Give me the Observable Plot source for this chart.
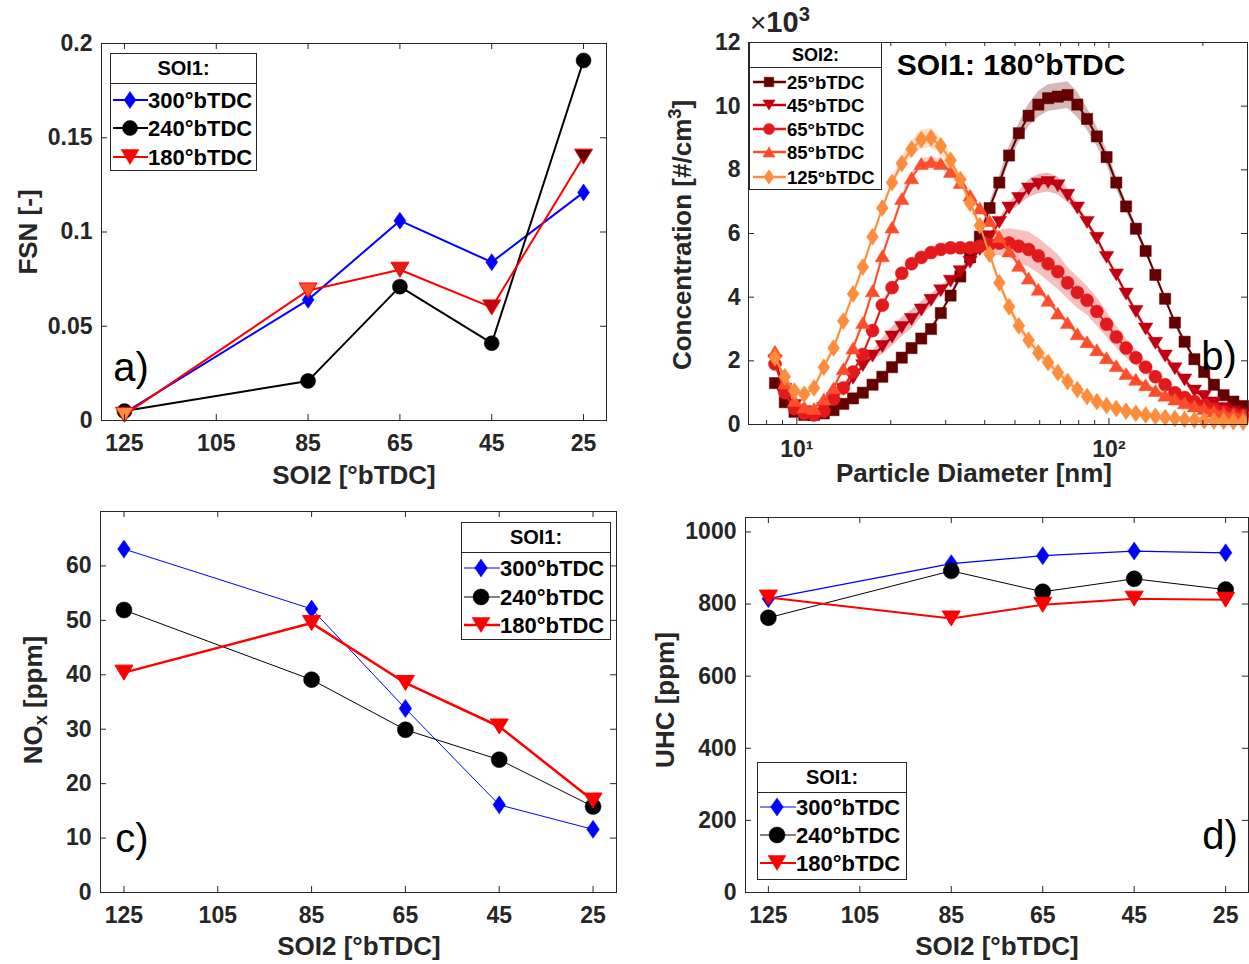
<!DOCTYPE html>
<html><head><meta charset="utf-8">
<script src="https://cdn.jsdelivr.net/npm/d3@7"></script>
<script src="https://cdn.jsdelivr.net/npm/@observablehq/plot@0.6"></script>
<style>
body{margin:0;background:#fff;}
#root{position:relative;width:1249px;height:964px;overflow:hidden;font-family:"Liberation Sans",Arial,sans-serif;color:#262626;}
.abs{position:absolute;white-space:nowrap;line-height:1;}
.ttl{font-weight:bold;font-size:26px;}
.rot{transform:translate(-50%,-50%) rotate(-90deg);}
.ctr{transform:translate(-50%,-50%);}
.tag{font-size:40px;color:#000;}
sub{font-size:0.7em;vertical-align:-0.25em;}
sup{font-size:0.7em;vertical-align:0.55em;}
</style></head>
<body><div id="root"></div>
<script>
// ---------------- data ----------------
const soi2 = [125, 85, 65, 45, 25];
const soi2Ticks = [125, 105, 85, 65, 45, 25];
const soi1Names = ["300°bTDC", "240°bTDC", "180°bTDC"];
const soi2Names = ["25°bTDC", "45°bTDC", "65°bTDC", "85°bTDC", "125°bTDC"];

const fsn300 = [0.004, 0.064, 0.106, 0.084, 0.121];
const fsn240 = [0.005, 0.021, 0.071, 0.041, 0.191];
const fsn180 = [0.003, 0.069, 0.080, 0.060, 0.140];

const nox300 = [63.1, 52.1, 33.8, 16.1, 11.6];
const nox240 = [51.9, 39.1, 29.9, 24.4, 15.8];
const nox180 = [40.4, 49.5, 38.5, 30.5, 16.9];

const uhc300 = [815, 912, 934, 947, 942];
const uhc240 = [762, 892, 834, 870, 840];
const uhc180 = [818, 760, 798, 815, 812];

// particle size distribution, SOI1 = 180°bTDC (values x10^3 #/cm3)
const diam = [8.51, 9.15, 9.83, 10.56, 11.35, 12.20, 13.11, 14.09, 15.14, 16.27, 17.48, 18.79, 20.19, 21.69, 23.31, 25.05, 26.92, 28.93, 31.09, 33.41, 35.90, 38.58, 41.46, 44.55, 47.87, 51.44, 55.28, 59.41, 63.84, 68.60, 73.72, 79.22, 85.11, 91.46, 98.29, 105.6, 113.5, 122.0, 131.1, 140.9, 151.4, 162.7, 174.8, 187.9, 201.9, 217.0, 233.1, 250.5, 269.2];
const psd25 = [1.3, 0.7, 0.4, 0.3, 0.3, 0.35, 0.45, 0.65, 0.82, 1.0, 1.25, 1.5, 1.8, 2.1, 2.4, 2.7, 3.0, 3.5, 4.05, 4.65, 5.25, 5.9, 6.8, 7.6, 8.45, 9.15, 9.7, 10.05, 10.25, 10.3, 10.35, 10.05, 9.6, 9.05, 8.4, 7.6, 6.85, 6.15, 5.45, 4.7, 3.95, 3.2, 2.6, 2.05, 1.65, 1.25, 0.92, 0.72, 0.58];
const psd45 = [2.0, 1.1, 0.6, 0.4, 0.33, 0.5, 0.8, 1.1, 1.45, 1.85, 2.15, 2.45, 2.75, 3.05, 3.3, 3.6, 3.9, 4.2, 4.5, 4.8, 5.1, 5.5, 5.9, 6.35, 6.8, 7.1, 7.4, 7.55, 7.6, 7.5, 7.2, 6.8, 6.35, 5.85, 5.25, 4.7, 4.1, 3.55, 3.0, 2.55, 2.15, 1.75, 1.4, 1.05, 0.88, 0.68, 0.5, 0.4, 0.33];
const psd65 = [1.9, 1.0, 0.5, 0.35, 0.3, 0.42, 0.8, 1.15, 1.65, 2.2, 2.95, 3.75, 4.3, 4.75, 5.05, 5.25, 5.4, 5.5, 5.55, 5.55, 5.55, 5.6, 5.65, 5.7, 5.7, 5.6, 5.5, 5.3, 5.05, 4.8, 4.45, 4.15, 3.9, 3.55, 3.15, 2.75, 2.4, 2.1, 1.8, 1.5, 1.25, 1.0, 0.85, 0.72, 0.6, 0.48, 0.4, 0.33, 0.28];
const psd85 = [2.3, 1.3, 0.75, 0.55, 0.5, 0.8, 1.15, 1.75, 2.4, 3.2, 4.2, 5.3, 6.2, 7.1, 7.75, 8.2, 8.25, 8.2, 7.95, 7.6, 7.2, 6.8, 6.4, 5.9, 5.45, 5.0, 4.6, 4.25, 3.9, 3.5, 3.2, 2.85, 2.6, 2.35, 2.1, 1.85, 1.6, 1.42, 1.25, 1.07, 0.92, 0.8, 0.68, 0.58, 0.5, 0.42, 0.36, 0.32, 0.28];
const psd125 = [2.1, 1.5, 1.05, 0.95, 1.15, 1.8, 2.4, 3.25, 4.1, 4.95, 5.9, 6.8, 7.6, 8.2, 8.65, 8.95, 9.0, 8.75, 8.3, 7.7, 6.95, 6.25, 5.35, 4.45, 3.7, 3.1, 2.65, 2.25, 1.95, 1.63, 1.35, 1.1, 0.88, 0.72, 0.6, 0.5, 0.42, 0.35, 0.3, 0.26, 0.22, 0.19, 0.16, 0.14, 0.12, 0.11, 0.1, 0.09, 0.08];
// standard deviation bands
const sd25 = [0.06, 0.06, 0.06, 0.06, 0.06, 0.06, 0.06, 0.06, 0.06, 0.06, 0.06, 0.06, 0.06, 0.06, 0.06, 0.06, 0.06, 0.06, 0.06, 0.08, 0.1, 0.12, 0.15, 0.2, 0.25, 0.3, 0.35, 0.4, 0.42, 0.42, 0.42, 0.4, 0.35, 0.3, 0.25, 0.2, 0.15, 0.12, 0.1, 0.08, 0.08, 0.08, 0.08, 0.08, 0.08, 0.08, 0.08, 0.08, 0.08];
const sd45 = [0.06, 0.06, 0.06, 0.06, 0.06, 0.06, 0.06, 0.06, 0.06, 0.06, 0.15, 0.25, 0.3, 0.3, 0.3, 0.25, 0.2, 0.15, 0.1, 0.1, 0.1, 0.1, 0.1, 0.1, 0.15, 0.22, 0.28, 0.3, 0.3, 0.28, 0.22, 0.15, 0.1, 0.1, 0.1, 0.1, 0.1, 0.1, 0.1, 0.1, 0.1, 0.1, 0.1, 0.1, 0.1, 0.1, 0.1, 0.1, 0.1];
const sd65 = [0.06, 0.06, 0.06, 0.06, 0.06, 0.06, 0.06, 0.06, 0.06, 0.06, 0.06, 0.06, 0.06, 0.06, 0.06, 0.06, 0.08, 0.1, 0.1, 0.12, 0.15, 0.2, 0.3, 0.4, 0.45, 0.5, 0.55, 0.55, 0.55, 0.55, 0.5, 0.5, 0.45, 0.45, 0.4, 0.35, 0.3, 0.25, 0.2, 0.15, 0.1, 0.1, 0.1, 0.1, 0.1, 0.1, 0.1, 0.1, 0.1];
const sd85 = [0.08, 0.08, 0.08, 0.08, 0.08, 0.08, 0.08, 0.08, 0.08, 0.08, 0.08, 0.08, 0.1, 0.12, 0.15, 0.15, 0.15, 0.15, 0.12, 0.1, 0.08, 0.08, 0.08, 0.08, 0.08, 0.08, 0.08, 0.08, 0.08, 0.08, 0.08, 0.08, 0.08, 0.08, 0.08, 0.08, 0.08, 0.08, 0.08, 0.08, 0.08, 0.08, 0.08, 0.08, 0.08, 0.08, 0.08, 0.08, 0.08];
const sd125 = [0.08, 0.08, 0.08, 0.08, 0.08, 0.08, 0.08, 0.08, 0.08, 0.08, 0.08, 0.08, 0.12, 0.2, 0.25, 0.3, 0.3, 0.25, 0.2, 0.15, 0.12, 0.12, 0.12, 0.14, 0.15, 0.15, 0.15, 0.15, 0.14, 0.12, 0.12, 0.1, 0.1, 0.08, 0.08, 0.08, 0.08, 0.08, 0.08, 0.08, 0.08, 0.08, 0.08, 0.08, 0.08, 0.08, 0.08, 0.08, 0.08];

const soi1Colors = ["#0000ff", "#000000", "#ff0000"];
const soi2Colors = {125: "#fd8d3c", 85: "#fc4e2a", 65: "#e31a1c", 45: "#c00010", 25: "#650000"};

// ---------------- symbols (MATLAB-like) ----------------
const R = s => Math.sqrt(s / Math.PI);
const symDiamond = {draw(c, s){const r=R(s), w=r*0.7; c.moveTo(0,-r); c.lineTo(w,0); c.lineTo(0,r); c.lineTo(-w,0); c.closePath();}};
const symCircle = {draw(c, s){const r=R(s); c.moveTo(r,0); c.arc(0,0,r,0,2*Math.PI); c.closePath();}};
const symTriDown = {draw(c, s){const r=R(s), h=r*0.83; c.moveTo(-r,-h); c.lineTo(r,-h); c.lineTo(0,h); c.closePath();}};
const symTriUp = {draw(c, s){const r=R(s), h=r*0.83; c.moveTo(-r,h); c.lineTo(r,h); c.lineTo(0,-h); c.closePath();}};
const symSquare = {draw(c, s){const r=R(s); c.moveTo(-r,-r); c.lineTo(r,-r); c.lineTo(r,r); c.lineTo(-r,r); c.closePath();}};

const root = document.getElementById("root");
const INK = "#262626";

function mkPanel(cfg){
  const {left, top, width, height, ml, mr, mt, mb, x, y, xTicks, yTicks, xMinor = [], xFmt, yFmt, marks, xPad, yPad, fontSize = 23, tick = 6} = cfg;
  const iw = width - ml - mr, ih = height - mt - mb;
  const p = Plot.plot({
    width, height, marginLeft: ml, marginRight: mr, marginTop: mt, marginBottom: mb,
    x: {...x, label: null}, y: {...y, label: null},
    color: {type: "identity"},
    style: {fontFamily: "Liberation Sans, Arial, sans-serif", color: INK, background: "transparent", overflow: "visible"},
    marks: [
      ...marks,
      Plot.tickX(xTicks, {x: d => d, insetTop: ih - tick, stroke: INK}),
      Plot.tickX(xTicks, {x: d => d, insetBottom: ih - tick, stroke: INK}),
      Plot.tickX(xMinor, {x: d => d, insetTop: ih - 4, stroke: INK}),
      Plot.tickX(xMinor, {x: d => d, insetBottom: ih - 4, stroke: INK}),
      Plot.tickY(yTicks, {y: d => d, insetRight: iw - tick, stroke: INK}),
      Plot.tickY(yTicks, {y: d => d, insetLeft: iw - tick, stroke: INK}),
      Plot.frame({stroke: INK}),
      Plot.axisX(xTicks, {anchor: "bottom", tickSize: 0, tickPadding: xPad, tickFormat: xFmt, fontSize, fontWeight: "bold", label: null}),
      Plot.axisY(yTicks, {anchor: "left", tickSize: 0, tickPadding: yPad, tickFormat: yFmt, fontSize, fontWeight: "bold", label: null})
    ]
  });
  p.style.position = "absolute"; p.style.left = left + "px"; p.style.top = top + "px";
  root.appendChild(p);
}

function seriesRows(values){ return soi2.map((s, i) => ({soi2: s, v: values[i], fill: soi2Colors[s]})); }

function soi1Marks(v300, v240, v180, w, sz, triFillBySoi2){
  const r300 = seriesRows(v300), r240 = seriesRows(v240), r180 = seriesRows(v180);
  return [
    Plot.line(r300, {x: "soi2", y: "v", stroke: soi1Colors[0], strokeWidth: w[0]}),
    Plot.dot(r300, {x: "soi2", y: "v", symbol: symDiamond, r: sz[0], fill: soi1Colors[0], stroke: soi1Colors[0], strokeWidth: 0.5}),
    Plot.line(r240, {x: "soi2", y: "v", stroke: soi1Colors[1], strokeWidth: w[1]}),
    Plot.dot(r240, {x: "soi2", y: "v", symbol: symCircle, r: sz[1], fill: soi1Colors[1], stroke: soi1Colors[1], strokeWidth: 0.5}),
    Plot.line(r180, {x: "soi2", y: "v", stroke: soi1Colors[2], strokeWidth: w[2]}),
    Plot.dot(r180, {x: "soi2", y: "v", symbol: symTriDown, r: sz[2], fill: triFillBySoi2 ? "fill" : soi1Colors[2], stroke: soi1Colors[2], strokeWidth: 1})
  ];
}

// ---------------- panel a ----------------
mkPanel({left: 0, top: 0, width: 620, height: 490, ml: 101, mr: 14, mt: 43, mb: 70,
  x: {domain: [130, 20]}, y: {domain: [0, 0.2]},
  xTicks: soi2Ticks, yTicks: [0, 0.05, 0.1, 0.15, 0.2], xFmt: d => String(d), yFmt: d => String(d),
  xPad: 14, yPad: 9,
  marks: soi1Marks(fsn300, fsn240, fsn180, [2, 2, 2], [8.5, 7.5, 9], true)});

// ---------------- panel b ----------------
const psdSeries = [
  {name: soi2Names[0], y: psd25, sd: sd25, color: soi2Colors[25], sym: symSquare, r: 5.6},
  {name: soi2Names[1], y: psd45, sd: sd45, color: soi2Colors[45], sym: symTriDown, r: 7.2},
  {name: soi2Names[2], y: psd65, sd: sd65, color: soi2Colors[65], sym: symCircle, r: 6.5},
  {name: soi2Names[3], y: psd85, sd: sd85, color: soi2Colors[85], sym: symTriUp, r: 7.2},
  {name: soi2Names[4], y: psd125, sd: sd125, color: soi2Colors[125], sym: symDiamond, r: 8.5}
];
const psdMarks = psdSeries.flatMap(s => {
  const rows = diam.map((d, i) => ({d, v: s.y[i], lo: s.y[i] - s.sd[i], hi: s.y[i] + s.sd[i]}));
  return [
    Plot.areaY(rows, {x: "d", y1: "lo", y2: "hi", fill: s.color, fillOpacity: 0.28}),
    Plot.line(rows, {x: "d", y: "v", stroke: s.color, strokeWidth: 2}),
    Plot.dot(rows, {x: "d", y: "v", symbol: s.sym, r: s.r, fill: s.color, stroke: s.color, strokeWidth: 0.5})
  ];
});
mkPanel({left: 630, top: 0, width: 619, height: 490, ml: 118, mr: 2, mt: 42, mb: 66,
  x: {type: "log", domain: [7.0, 278]}, y: {domain: [0, 12]},
  xTicks: [10, 100], xMinor: [8, 9, 20, 30, 40, 50, 60, 70, 80, 90, 200],
  yTicks: [0, 2, 4, 6, 8, 10, 12], xFmt: d => d === 10 ? "10¹" : "10²", yFmt: d => String(d),
  xPad: 16, yPad: 8, marks: psdMarks});

// ---------------- panel c ----------------
mkPanel({left: 0, top: 490, width: 630, height: 474, ml: 100, mr: 14, mt: 21, mb: 72,
  x: {domain: [130, 20]}, y: {domain: [0, 70]},
  xTicks: soi2Ticks, yTicks: [0, 10, 20, 30, 40, 50, 60], xFmt: d => String(d), yFmt: d => String(d),
  xPad: 14, yPad: 9,
  marks: soi1Marks(nox300, nox240, nox180, [1, 1, 2.5], [9, 8, 9], false)});

// ---------------- panel d ----------------
mkPanel({left: 630, top: 490, width: 619, height: 474, ml: 115, mr: 1, mt: 27, mb: 72,
  x: {domain: [130, 20]}, y: {domain: [0, 1040]},
  xTicks: soi2Ticks, yTicks: [0, 200, 400, 600, 800, 1000], xFmt: d => String(d), yFmt: d => String(d),
  xPad: 14, yPad: 9,
  marks: soi1Marks(uhc300, uhc240, uhc180, [1.2, 1, 2], [9, 8, 9], false)});

// ---------------- legends ----------------
function legend(o){
  const svg = d3.create("svg").attr("width", o.w).attr("height", o.h)
    .style("position", "absolute").style("left", o.left + "px").style("top", o.top + "px")
    .style("font-family", "Liberation Sans, Arial, sans-serif");
  svg.append("rect").attr("x", 0.5).attr("y", 0.5).attr("width", o.w - 1).attr("height", o.h - 1)
    .attr("fill", "#fff").attr("stroke", INK);
  svg.append("line").attr("x1", 0).attr("x2", o.w).attr("y1", o.sep + 0.5).attr("y2", o.sep + 0.5).attr("stroke", INK);
  svg.append("text").attr("x", o.w / 2).attr("y", o.sep / 2).attr("dy", "0.36em").attr("text-anchor", "middle")
    .attr("font-size", o.headSize).attr("font-weight", "bold").attr("fill", "#000").text(o.title);
  o.entries.forEach((e, k) => {
    const cy = o.rows[k];
    svg.append("line").attr("x1", o.lx0).attr("x2", o.lx1).attr("y1", cy).attr("y2", cy)
      .attr("stroke", e.color).attr("stroke-width", e.lw);
    svg.append("path").attr("d", d3.symbol(e.sym, e.r * e.r * Math.PI)()).attr("transform", `translate(${o.mx},${cy})`)
      .attr("fill", e.fill || e.color).attr("stroke", e.color).attr("stroke-width", 0.5);
    svg.append("text").attr("x", o.tx).attr("y", cy).attr("dy", "0.36em").attr("font-size", o.fontSize)
      .attr("font-weight", "bold").attr("fill", "#000").text(e.label);
  });
  root.appendChild(svg.node());
}
function soi1Entries(lw, sz){
  return [
    {label: soi1Names[0], color: soi1Colors[0], sym: symDiamond, r: sz[0], lw: lw[0]},
    {label: soi1Names[1], color: soi1Colors[1], sym: symCircle, r: sz[1], lw: lw[1]},
    {label: soi1Names[2], color: soi1Colors[2], sym: symTriDown, r: sz[2], lw: lw[2]}
  ];
}
legend({left: 110, top: 53, w: 147, h: 118, sep: 30, rows: [47, 75, 104], lx0: 3, lx1: 38, mx: 20, tx: 38,
  fontSize: 22, headSize: 20, title: "SOI1:", entries: soi1Entries([2, 2, 2], [8.5, 7.5, 9])});
legend({left: 461, top: 522, w: 150, h: 118, sep: 30, rows: [46, 75, 103], lx0: 3, lx1: 39, mx: 20, tx: 39,
  fontSize: 22, headSize: 20, title: "SOI1:", entries: soi1Entries([1, 1, 2.5], [9, 8, 9])});
legend({left: 757, top: 762, w: 150, h: 118, sep: 30, rows: [45, 73, 101], lx0: 3, lx1: 39, mx: 20, tx: 39,
  fontSize: 22, headSize: 20, title: "SOI1:", entries: soi1Entries([1.2, 1, 2], [9, 8, 9])});
legend({left: 749, top: 42, w: 133, h: 148, sep: 25, rows: [40, 63, 87, 110, 135], lx0: 4, lx1: 37, mx: 20, tx: 38,
  fontSize: 18.5, headSize: 18, title: "SOI2:",
  entries: psdSeries.map(s => ({label: s.name, color: s.color, sym: s.sym, r: s.r * 0.85, lw: 2.5}))});

// ---------------- titles / annotations ----------------
function html(cls, x, y, content){
  const d = document.createElement("div");
  d.className = "abs " + cls; d.style.left = x + "px"; d.style.top = y + "px"; d.innerHTML = content;
  root.appendChild(d);
}
html("ttl ctr", 354, 475, "SOI2 [°bTDC]");
html("ttl rot", 28, 232, "FSN [-]");
html("ttl ctr", 974, 473, "Particle Diameter [nm]");
html("ttl rot", 680, 235, "Concentration [#/cm<sup>3</sup>]");
html("ttl ctr", 359, 946, "SOI2 [°bTDC]");
html("ttl rot", 35, 700, "NO<sub>x</sub> [ppm]");
html("ttl ctr", 997, 946, "SOI2 [°bTDC]");
html("ttl rot", 665, 700, "UHC [ppm]");
html("", 750, 4, '<span style="font-size:28px;">×</span><span style="font-size:29px;font-weight:bold;">10<sup>3</sup></span>');
html("ctr", 1011, 65, '<span style="font-size:30px;font-weight:bold;color:#000;">SOI1: 180°bTDC</span>');
html("tag ctr", 131, 367, "a)");
html("tag ctr", 1219, 356, "b)");
html("tag ctr", 132, 838, "c)");
html("tag ctr", 1220, 835, "d)");
</script>
</body></html>
